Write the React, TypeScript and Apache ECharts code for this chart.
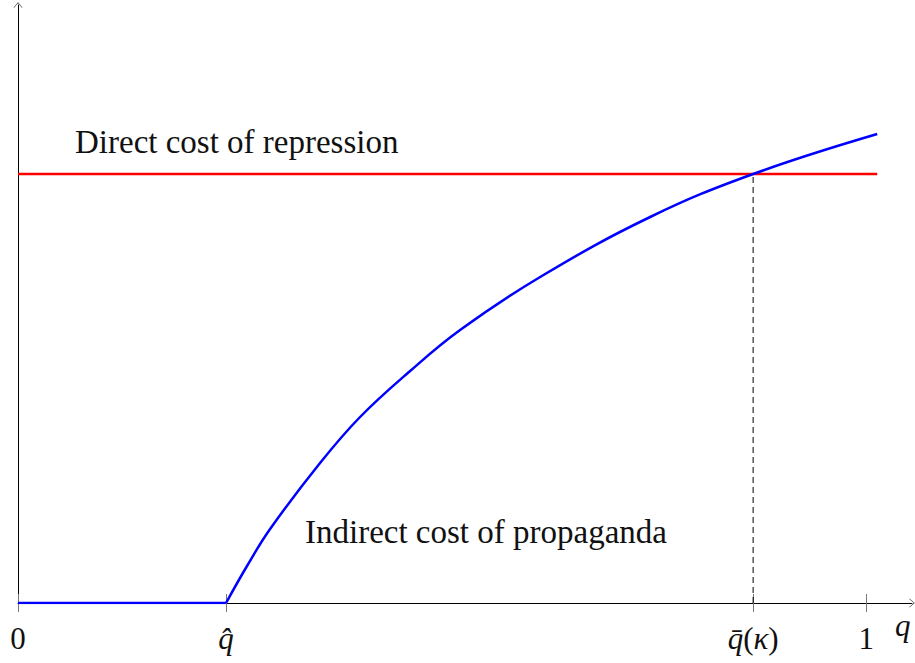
import React, { useEffect, useRef } from "react";
import * as echarts from "echarts";

// ---- data ----
const X_MIN = 0;
const X_MAX = 1.054;
const Y_MIN = 0;
const Y_MAX = 5.98;
const Q_HAT = 0.2453;
const Q_BAR = 0.8667;
const Q_ONE = 1;
const REPRESSION_COST = 4.29;
const LINE_END = 1.013;

const flatX = [0, Q_HAT];
const flatY = [0, 0];
const curveX = [0.2453, 0.27, 0.2972, 0.3561, 0.4033, 0.4623, 0.5212, 0.6156, 0.7453, 0.8667, 1.013];
const curveY = [0, 0.37, 0.74, 1.4, 1.86, 2.32, 2.73, 3.26, 3.86, 4.29, 4.69];
const redX = [0, LINE_END];
const redY = [REPRESSION_COST, REPRESSION_COST];
const tickValues = [0, Q_HAT, Q_BAR, Q_ONE];
const tickLabels = ["{n|0}", "{i|q\u0302}", "{i|q\u0304}{n|(}{i|κ}{n|)}", "{n|1}"];
const directLabel = "Direct cost of repression";
const indirectLabel = "Indirect cost of propaganda";
const axisName = "q";

const FONT = "Liberation Serif, DejaVu Serif, serif";

function zip(xs: number[], ys: number[]) {
  return xs.map((x, i) => [x, ys[i]]);
}

export default function App() {
  const ref = useRef<HTMLDivElement>(null);
  useEffect(() => {
    if (!ref.current) return;
    const chart = echarts.init(ref.current, null, { renderer: "svg" });
    const arrow = "path://M0,0 L10,12 L8.8,12 L0,1.6 L-8.8,12 L-10,12 Z";
    chart.setOption({
      animation: false,
      backgroundColor: "#fff",
      grid: { left: 18, right: 3, top: 5, bottom: 60 },
      xAxis: [
        {
          type: "value",
          min: X_MIN,
          max: X_MAX,
          position: "bottom",
          axisLine: {
            show: true,
            onZero: false,
            symbol: ["none", arrow],
            symbolSize: [9, 7],
            lineStyle: { color: "#000", width: 1 },
          },
          axisTick: {
            show: true,
            customValues: tickValues,
            length: 9,
            lineStyle: { color: "#777", width: 1 },
          },
          axisLabel: {
            show: true,
            customValues: tickValues,
            margin: 20,
            formatter: (v: number) => {
              const idx = tickValues.findIndex((t) => Math.abs(t - v) < 1e-6);
              return idx >= 0 ? tickLabels[idx] : "";
            },
            rich: {
              n: { fontFamily: FONT, fontSize: 31, color: "#111" },
              i: { fontFamily: FONT, fontSize: 31, fontStyle: "italic", color: "#111" },
            },
          },
          splitLine: { show: false },
        },
        {
          type: "value",
          min: X_MIN,
          max: X_MAX,
          position: "bottom",
          axisLine: { show: false, onZero: false },
          axisTick: {
            show: true,
            inside: true,
            customValues: tickValues,
            length: 9,
            lineStyle: { color: "#777", width: 1 },
          },
          axisLabel: { show: false },
          splitLine: { show: false },
        },
      ],
      yAxis: {
        type: "value",
        min: Y_MIN,
        max: Y_MAX,
        axisLine: {
          show: true,
          onZero: false,
          symbol: ["none", arrow],
          symbolSize: [9, 7],
          lineStyle: { color: "#000", width: 1 },
        },
        axisTick: { show: false },
        axisLabel: { show: false },
        splitLine: { show: false },
      },
      series: [
        {
          type: "line",
          data: zip(redX, redY),
          showSymbol: false,
          lineStyle: { color: "#ff0000", width: 2.5 },
          z: 3,
        },
        {
          type: "line",
          data: zip([Q_BAR, Q_BAR], [0, REPRESSION_COST]),
          showSymbol: false,
          lineStyle: { color: "#000", width: 1, type: [6, 4] },
          z: 2,
        },
        {
          type: "line",
          data: zip(flatX, flatY),
          showSymbol: false,
          lineStyle: { color: "#0000ff", width: 2.5 },
          z: 4,
        },
        {
          type: "line",
          data: zip(curveX, curveY),
          showSymbol: false,
          smooth: 0.4,
          lineStyle: { color: "#0000ff", width: 2.5 },
          z: 4,
        },
      ],
      graphic: [
        {
          type: "text",
          left: 75,
          top: 125,
          style: { text: directLabel, fontFamily: FONT, fontSize: 33, fill: "#111" },
        },
        {
          type: "text",
          left: 305,
          top: 515,
          style: { text: indirectLabel, fontFamily: FONT, fontSize: 33, fill: "#111" },
        },
        {
          type: "text",
          left: 895,
          top: 610,
          style: { text: axisName, fontFamily: FONT, fontSize: 31, fontStyle: "italic", fill: "#111" },
        },
      ],
    });
    return () => chart.dispose();
  }, []);
  return (
    <div
      ref={ref}
      style={{ position: "fixed", left: 0, top: 0, width: 915, height: 663 }}
    />
  );
}
